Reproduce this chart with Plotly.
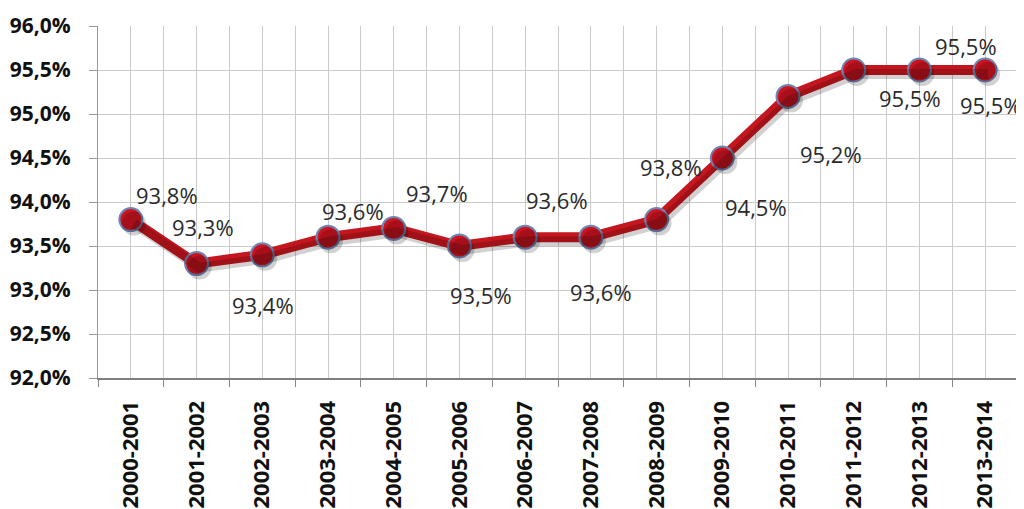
import plotly.graph_objects as go

years = ["2000-2001", "2001-2002", "2002-2003", "2003-2004", "2004-2005",
         "2005-2006", "2006-2007", "2007-2008", "2008-2009", "2009-2010",
         "2010-2011", "2011-2012", "2012-2013", "2013-2014"]
values = [93.8, 93.3, 93.4, 93.6, 93.7, 93.5, 93.6, 93.6, 93.8, 94.5,
          95.2, 95.5, 95.5, 95.5]
y_ticks = [92.0, 92.5, 93.0, 93.5, 94.0, 94.5, 95.0, 95.5, 96.0]

# label offsets (pixels) relative to each marker
label_dx = [36, 6, 1, 25, 43, 22, 32, 10, 14, 34, 43, 56, 47, 6]
label_dy = [25, 37, -50, 26, 35, -49, 37, -55, 53, -49, -58, -28, 24, -35]

def fmt(v):
    return f"{v:.1f}".replace(".", ",") + "%"

xs = list(range(len(years)))
# the page body adds an 8px margin on the left/top
W, H = 1016, 501
ml, mr, mt = 90, 6, 18
ph = 352
mb = H - mt - ph
pw = W - ml - mr
xr = [-0.5, len(years) - 0.5]
yr = [92.0, 96.0]
px_x = (xr[1] - xr[0]) / pw
px_y = (yr[1] - yr[0]) / ph
sdx, sdy = 3, 4

fig = go.Figure()
# shadow
fig.add_trace(go.Scatter(
    x=xs, y=values, mode="lines+markers", xaxis="x2", yaxis="y2",
    line=dict(color="rgba(0,0,0,0.18)", width=10),
    marker=dict(size=24, color="rgba(0,0,0,0.18)"),
    hoverinfo="skip", showlegend=False))
fig.add_trace(go.Scatter(
    x=xs, y=values, mode="lines+markers",
    line=dict(color="#C4161E", width=10),
    marker=dict(size=23, color="#CC1420", line=dict(color="#6D86B4", width=2)),
    showlegend=False))

for i, v in enumerate(values):
    fig.add_annotation(x=xs[i], y=v, text=fmt(v), showarrow=False,
                       xshift=label_dx[i], yshift=label_dy[i],
                       font=dict(family="Open Sans", size=22, color="#2A2A2A"))

fig.update_layout(
    width=W, height=H,
    margin=dict(l=ml, r=mr, t=mt, b=mb, pad=0, autoexpand=False),
    paper_bgcolor="white", plot_bgcolor="white",
    xaxis=dict(range=xr, tickmode="array", tickvals=xs, ticktext=years,
               tickangle=-90, showgrid=True, gridcolor="#CACACA", gridwidth=1,
               ticks="", zeroline=False, automargin=False,
               minor=dict(tick0=0.5, dtick=1, showgrid=True, gridcolor="#CACACA",
                          ticks="outside", ticklen=7, tickcolor="#888888"),
               showline=True, linecolor="#7F7F7F", linewidth=2,
               tickfont=dict(family="Open Sans", size=22, color="#111111",
                             weight="bold"),
               ticklabelstandoff=12),
    yaxis=dict(range=yr, tickmode="array", tickvals=y_ticks,
               ticktext=[fmt(t) for t in y_ticks], automargin=False,
               showgrid=True, gridcolor="#CACACA", gridwidth=1, zeroline=False,
               ticks="outside", ticklen=8, tickcolor="#999999",
               showline=True, linecolor="#999999", linewidth=1, mirror=True,
               ticklabelstandoff=14,
               tickfont=dict(family="Open Sans", size=21, color="#111111",
                             weight="bold")),
    xaxis2=dict(range=[xr[0] - sdx * px_x, xr[1] - sdx * px_x], overlaying="x",
                visible=False),
    yaxis2=dict(range=[yr[0] + sdy * px_y, yr[1] + sdy * px_y], overlaying="y",
                visible=False),
)

fig.write_html("out.html")
